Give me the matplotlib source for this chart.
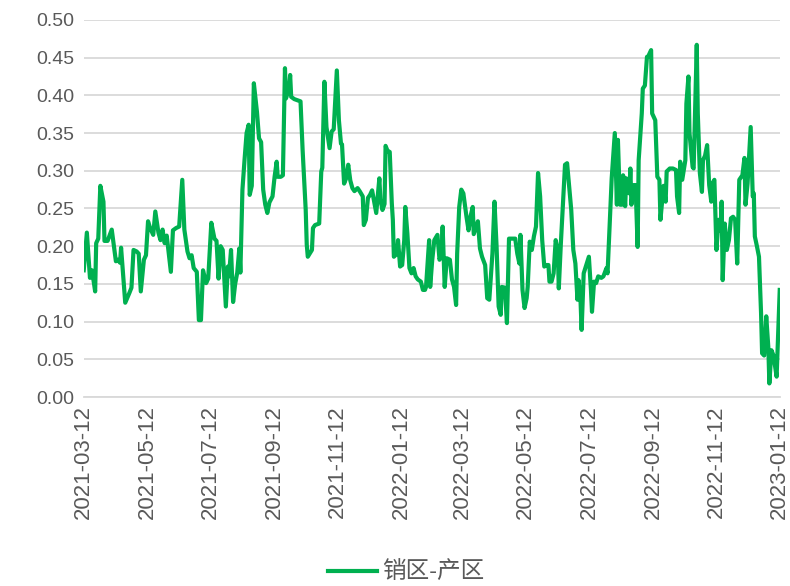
import matplotlib
matplotlib.use("Agg")
import matplotlib.pyplot as plt
import matplotlib.dates as mdates
import pandas as pd

# 日期：从 2021-03-12 起的天数
dias = [0, 3, 6, 8, 11, 12, 14, 16, 19, 20, 23, 27, 31, 33, 35, 36, 40, 44, 46, 48,
        51, 53, 55, 58, 60, 62, 64, 67, 69, 72, 74, 76, 78, 80, 84, 86, 89, 92, 95, 97,
        100, 102, 104, 106, 109, 111, 113, 115, 118, 120, 123, 126, 128, 130, 132, 134, 137, 139, 140, 142,
        144, 146, 148, 150, 151, 153, 155, 157, 159, 160, 162, 164, 167, 169, 171, 173, 175, 177, 179, 182,
        184, 186, 187, 190, 192, 194, 195, 198, 199, 200, 203, 209, 211, 214, 215, 216, 220, 221, 223, 227,
        229, 230, 232, 234, 237, 239, 241, 244, 246, 248, 249, 251, 253, 255, 257, 259, 261, 264, 266, 269,
        270, 272, 274, 276, 278, 282, 285, 286, 288, 290, 291, 293, 295, 297, 298, 299, 302, 303, 305, 307,
        309, 310, 312, 314, 316, 318, 320, 322, 325, 327, 329, 330, 333, 334, 336, 338, 341, 343, 345, 346,
        348, 350, 353, 355, 357, 359, 360, 362, 364, 366, 369, 371, 373, 375, 376, 379, 380, 382, 384, 387,
        389, 391, 394, 396, 398, 400, 402, 403, 406, 408, 410, 414, 416, 418, 420, 421, 423, 425, 427, 428,
        430, 432, 434, 436, 438, 440, 442, 444, 446, 448, 449, 451, 453, 455, 457, 458, 460, 462, 464, 466,
        468, 470, 472, 474, 476, 477, 479, 480, 482, 485, 487, 489, 490, 492, 494, 496, 499, 501, 504, 505,
        507, 509, 512, 514, 515, 517, 519, 520, 522, 523, 526, 527, 528, 530, 532, 534, 535, 538, 539, 541,
        543, 544, 547, 548, 551, 553, 555, 556, 559, 561, 562, 565, 568, 571, 572, 574, 575, 577, 580, 581,
        583, 584, 587, 588, 591, 592, 594, 596, 597, 599, 601, 603, 605, 606, 608, 610, 612, 614, 615, 616,
        618, 620, 622, 624, 626, 628, 630, 632, 635, 637, 638, 640, 643, 645, 646, 647, 649, 651, 653, 654,
        656, 658, 660, 661, 663, 665, 668, 671]

valores = [0.168, 0.218, 0.158, 0.168, 0.140, 0.204, 0.210, 0.280, 0.259, 0.207, 0.207, 0.222, 0.180, 0.182, 0.178, 0.198, 0.125, 0.138, 0.145, 0.195,
           0.193, 0.190, 0.140, 0.182, 0.188, 0.233, 0.224, 0.215, 0.246, 0.218, 0.208, 0.222, 0.204, 0.214, 0.166, 0.221, 0.224, 0.226, 0.288, 0.222,
           0.193, 0.184, 0.188, 0.171, 0.166, 0.102, 0.102, 0.168, 0.151, 0.157, 0.231, 0.210, 0.207, 0.157, 0.200, 0.195, 0.120, 0.173, 0.160, 0.195,
           0.126, 0.150, 0.165, 0.197, 0.165, 0.275, 0.314, 0.350, 0.361, 0.268, 0.280, 0.416, 0.378, 0.343, 0.338, 0.275, 0.255, 0.244, 0.258, 0.266,
           0.292, 0.312, 0.292, 0.292, 0.294, 0.436, 0.396, 0.410, 0.427, 0.398, 0.395, 0.392, 0.328, 0.248, 0.202, 0.186, 0.195, 0.224, 0.228, 0.230,
           0.299, 0.304, 0.418, 0.358, 0.330, 0.352, 0.355, 0.433, 0.367, 0.336, 0.335, 0.283, 0.290, 0.308, 0.287, 0.277, 0.273, 0.277, 0.273, 0.266,
           0.228, 0.235, 0.264, 0.268, 0.274, 0.244, 0.290, 0.262, 0.248, 0.256, 0.333, 0.326, 0.325, 0.257, 0.235, 0.186, 0.190, 0.208, 0.173, 0.175,
           0.208, 0.252, 0.217, 0.171, 0.164, 0.171, 0.160, 0.156, 0.153, 0.142, 0.142, 0.146, 0.208, 0.146, 0.182, 0.208, 0.215, 0.182, 0.190, 0.226,
           0.146, 0.184, 0.182, 0.156, 0.146, 0.122, 0.190, 0.252, 0.275, 0.270, 0.239, 0.221, 0.240, 0.252, 0.216, 0.229, 0.233, 0.197, 0.186, 0.175,
           0.131, 0.129, 0.190, 0.259, 0.200, 0.120, 0.109, 0.146, 0.145, 0.098, 0.210, 0.210, 0.210, 0.190, 0.177, 0.215, 0.142, 0.118, 0.131, 0.146,
           0.206, 0.195, 0.213, 0.226, 0.297, 0.266, 0.208, 0.173, 0.175, 0.175, 0.153, 0.153, 0.164, 0.208, 0.195, 0.144, 0.204, 0.257, 0.308, 0.310,
           0.279, 0.248, 0.195, 0.177, 0.129, 0.155, 0.126, 0.089, 0.164, 0.177, 0.186, 0.142, 0.113, 0.153, 0.151, 0.160, 0.158, 0.160, 0.171, 0.164,
           0.226, 0.290, 0.350, 0.255, 0.341, 0.255, 0.255, 0.294, 0.253, 0.290, 0.270, 0.303, 0.255, 0.281, 0.281, 0.199, 0.314, 0.376, 0.409, 0.413,
           0.451, 0.451, 0.460, 0.376, 0.367, 0.292, 0.288, 0.235, 0.280, 0.259, 0.299, 0.303, 0.303, 0.301, 0.266, 0.244, 0.312, 0.288, 0.314, 0.389,
           0.425, 0.350, 0.305, 0.303, 0.467, 0.376, 0.297, 0.272, 0.314, 0.320, 0.334, 0.281, 0.259, 0.283, 0.288, 0.195, 0.235, 0.220, 0.259, 0.155,
           0.230, 0.195, 0.208, 0.237, 0.239, 0.235, 0.177, 0.288, 0.294, 0.317, 0.255, 0.283, 0.358, 0.266, 0.270, 0.213, 0.200, 0.186, 0.111, 0.058,
           0.055, 0.107, 0.066, 0.018, 0.062, 0.055, 0.027, 0.142]

inicio = pd.Timestamp("2021-03-12")
fin = pd.Timestamp("2023-01-12")
fechas = inicio + pd.to_timedelta(dias, unit="D")

plt.rcParams['font.family'] = ['Liberation Sans', 'Noto Sans CJK SC', 'DejaVu Sans']

fig = plt.figure(figsize=(7.9, 5.86), dpi=100)
ax = fig.add_axes([0.106, 0.3225, 0.881, 0.6435])

ax.plot(fechas, valores, color='#00B050', linewidth=3.0, label='销区-产区')

ax.set_ylim(0, 0.5)
ax.set_yticks([i * 0.05 for i in range(11)])
ax.set_yticklabels(['%.2f' % (i * 0.05) for i in range(11)])
ax.set_xlim(inicio, fin)
ax.xaxis.set_major_locator(mdates.MonthLocator(bymonth=[1, 3, 5, 7, 9, 11], bymonthday=12))
ax.xaxis.set_major_formatter(mdates.DateFormatter('%Y-%m-%d'))

ax.grid(axis='y', color='#D9D9D9', linewidth=1.3)
ax.set_axisbelow(True)
for s in ['top', 'right', 'left']:
    ax.spines[s].set_visible(False)
ax.spines['bottom'].set_color('#D9D9D9')
ax.spines['bottom'].set_linewidth(1.3)

ax.tick_params(axis='y', length=0, pad=7, labelsize=14, labelcolor='#595959')
ax.tick_params(axis='x', length=0, pad=6, labelsize=16, labelcolor='#595959', labelrotation=90)

fig.legend(loc='center', bbox_to_anchor=(0.514, 0.022), frameon=False,
           fontsize=17, handlelength=2.1, handletextpad=0.2, labelcolor='#595959')

fig.savefig('out.png', dpi=100)
